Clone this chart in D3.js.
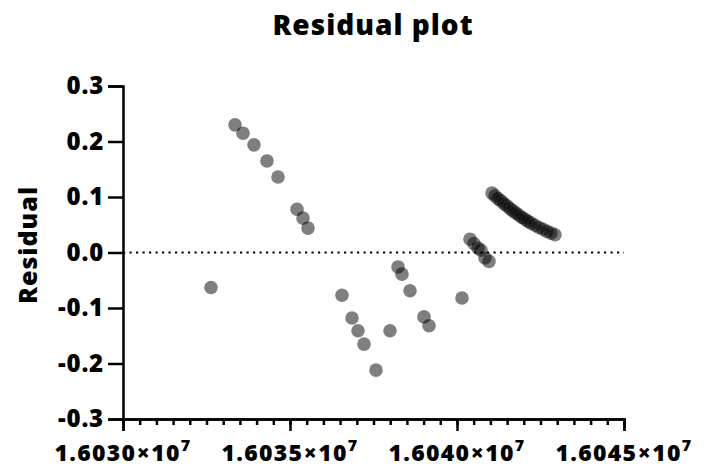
<!DOCTYPE html>
<html>
<head>
  <meta charset="utf-8">
  <script src="https://cdn.jsdelivr.net/npm/d3@7"></script>
  <style type="text/css">
    body { margin: 0; background: #fff; }
    text { font-family: "Open Sans", "Noto Sans", sans-serif; font-weight: 800; fill: #000; }
  </style>
</head>
<body>
<script>
  var w = 714;
  var h = 470;
  var margin = {top: 86, right: 90, bottom: 51, left: 123};

  // fitted x values and residuals
  var xValues = [
    16032635, 16033353, 16033593, 16033922, 16034311, 16034641, 16035210, 16035389, 16035539,
    16036557, 16036856, 16037036, 16037216, 16037575, 16037994, 16038234, 16038353, 16038593,
    16039012, 16039162, 16040150,
    16040389, 16040509, 16040629, 16040719, 16040838, 16040958,
    16041048, 16041138, 16041228, 16041317, 16041407, 16041497, 16041587, 16041677, 16041767,
    16041856, 16041946, 16042036, 16042126, 16042216, 16042335, 16042455, 16042575, 16042695,
    16042814, 16042934
  ];
  var residuals = [
    -0.063, 0.230, 0.215, 0.194, 0.165, 0.136, 0.078, 0.062, 0.044,
    -0.077, -0.118, -0.141, -0.165, -0.212, -0.141, -0.026, -0.039, -0.069,
    -0.116, -0.132, -0.082,
    0.024, 0.016, 0.008, 0.004, -0.010, -0.016,
    0.107, 0.102, 0.097, 0.093, 0.088, 0.084, 0.079, 0.075, 0.071,
    0.067, 0.063, 0.060, 0.056, 0.053, 0.049, 0.045, 0.042, 0.038,
    0.035, 0.032
  ];
  var xTicks = [16030000, 16035000, 16040000, 16045000];
  var yTicks = [-0.3, -0.2, -0.1, 0.0, 0.1, 0.2, 0.3];

  var svg = d3.select("body").append("svg")
              .attr("width", w)
              .attr("height", h);

  var x = d3.scaleLinear()
            .domain([16030000, 16045000])
            .range([margin.left, w - margin.right]);
  var y = d3.scaleLinear()
            .domain([-0.3, 0.3])
            .range([h - margin.bottom, margin.top]);

  // title
  svg.append("text")
     .attr("x", 373).attr("y", 35)
     .attr("text-anchor", "middle")
     .style("font-size", "28px")
     .style("letter-spacing", "1px")
     .text("Residual plot");

  // y label
  svg.append("text")
     .attr("transform", "translate(37,245) rotate(-90)")
     .attr("text-anchor", "middle")
     .style("font-size", "25px")
     .style("letter-spacing", "1px")
     .text("Residual");

  // zero line
  svg.append("line")
     .attr("x1", x(16030000)).attr("x2", x(16045000))
     .attr("y1", y(0)).attr("y2", y(0))
     .attr("stroke", "#000")
     .attr("stroke-width", 2.2)
     .attr("stroke-dasharray", "2.2,4.3");

  // points
  var pts = xValues.map(function (d, i) { return [d, residuals[i]]; });
  svg.selectAll("circle.pt")
     .data(pts)
     .enter()
     .append("circle")
     .attr("class", "pt")
     .attr("cx", function (d) { return x(d[0]); })
     .attr("cy", function (d) { return y(d[1]); })
     .attr("r", 6.8)
     .attr("fill", "#000")
     .attr("fill-opacity", 0.5);

  // y axis
  var yAxis = svg.append("g")
     .attr("transform", "translate(" + margin.left + ",0)")
     .call(d3.axisLeft(y).tickValues(yTicks).tickSize(15).tickPadding(4)
             .tickFormat(function (d) { return d.toFixed(1); }));
  yAxis.selectAll("text").style("font-size", "24px").style("letter-spacing", "0.8px");

  // x axis, minor ticks every 500
  var minor = d3.range(16030000, 16045001, 500);
  var xg = svg.append("g")
     .attr("transform", "translate(0," + (h - margin.bottom) + ")");
  xg.call(d3.axisBottom(x).tickValues(minor).tickSize(6).tickFormat(""));
  xg.append("g")
    .call(d3.axisBottom(x).tickValues(xTicks).tickSize(12).tickPadding(6)
            .tickFormat(function () { return ""; }));
  [yAxis, xg].forEach(function (g) {
    g.selectAll("line").attr("stroke-width", 2.5);
    g.selectAll(".domain").attr("stroke-width", 2.5);
  });

  // x tick labels as mantissa x 10^7
  xTicks.forEach(function (t) {
    var lab = svg.append("text")
       .attr("x", x(t)).attr("y", 461)
       .attr("text-anchor", "middle")
       .style("font-size", "23px")
       .style("letter-spacing", "1.3px");
    lab.append("tspan").text((t / 1e7).toFixed(4) + "\u00d710");
    lab.append("tspan").attr("dy", -10).style("font-size", "16px").text("7");
  });
</script>
</body>
</html>
